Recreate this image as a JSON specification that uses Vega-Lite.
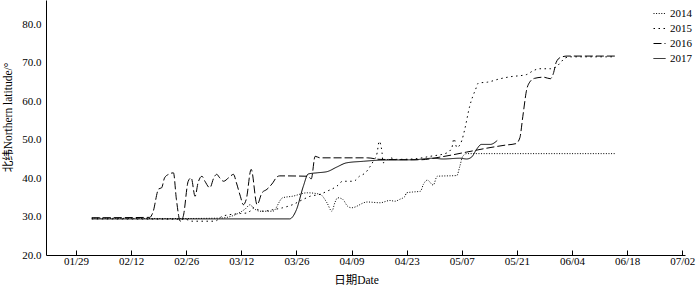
{
  "$schema": "https://vega.github.io/schema/vega-lite/v6.json",
  "width": 639,
  "height": 255,
  "autosize": {"type": "none"},
  "padding": {"left": 46, "top": 0, "right": 15, "bottom": 36},
  "background": "white",
  "config": {
    "view": {"stroke": null},
    "font": "'Liberation Serif', serif",
    "axis": {"grid": false, "domainColor": "black", "tickColor": "black", "labelColor": "black", "titleColor": "black", "labelFont": "'Liberation Serif', serif", "titleFont": "'Liberation Serif', 'Noto Sans CJK SC', serif", "labelFontSize": 11, "titleFontSize": 11.5, "titleFontWeight": "normal"},
    "legend": {"labelFont": "'Liberation Serif', serif", "labelFontSize": 11, "labelColor": "black"}
  },
  "data": {
    "values": [
      {"year": "2014", "date": "2001-02-02T00:00", "lat": 29.6},
      {"year": "2014", "date": "2001-02-24T12:00", "lat": 29.5},
      {"year": "2014", "date": "2001-03-06T12:00", "lat": 29.6},
      {"year": "2014", "date": "2001-03-10T12:00", "lat": 30.5},
      {"year": "2014", "date": "2001-03-13T00:00", "lat": 32.0},
      {"year": "2014", "date": "2001-03-14T06:00", "lat": 33.1},
      {"year": "2014", "date": "2001-03-15T00:00", "lat": 32.3},
      {"year": "2014", "date": "2001-03-16T18:00", "lat": 31.4},
      {"year": "2014", "date": "2001-03-20T00:00", "lat": 31.4},
      {"year": "2014", "date": "2001-03-22T12:00", "lat": 34.9},
      {"year": "2014", "date": "2001-03-25T00:00", "lat": 35.3},
      {"year": "2014", "date": "2001-03-28T18:00", "lat": 36.2},
      {"year": "2014", "date": "2001-04-01T00:00", "lat": 35.8},
      {"year": "2014", "date": "2001-04-02T18:00", "lat": 33.6},
      {"year": "2014", "date": "2001-04-04T00:00", "lat": 31.4},
      {"year": "2014", "date": "2001-04-04T18:00", "lat": 33.6},
      {"year": "2014", "date": "2001-04-05T12:00", "lat": 34.9},
      {"year": "2014", "date": "2001-04-06T18:00", "lat": 34.5},
      {"year": "2014", "date": "2001-04-08T00:00", "lat": 32.7},
      {"year": "2014", "date": "2001-04-09T00:00", "lat": 32.3},
      {"year": "2014", "date": "2001-04-13T00:00", "lat": 33.8},
      {"year": "2014", "date": "2001-04-16T06:00", "lat": 33.6},
      {"year": "2014", "date": "2001-04-18T18:00", "lat": 34.2},
      {"year": "2014", "date": "2001-04-20T00:00", "lat": 34.0},
      {"year": "2014", "date": "2001-04-21T06:00", "lat": 34.5},
      {"year": "2014", "date": "2001-04-22T12:00", "lat": 35.2},
      {"year": "2014", "date": "2001-04-23T00:00", "lat": 36.2},
      {"year": "2014", "date": "2001-04-24T12:00", "lat": 36.4},
      {"year": "2014", "date": "2001-04-26T12:00", "lat": 36.6},
      {"year": "2014", "date": "2001-04-27T06:00", "lat": 38.4},
      {"year": "2014", "date": "2001-04-28T06:00", "lat": 39.5},
      {"year": "2014", "date": "2001-04-29T18:00", "lat": 38.2},
      {"year": "2014", "date": "2001-04-30T18:00", "lat": 40.5},
      {"year": "2014", "date": "2001-05-05T18:00", "lat": 40.7},
      {"year": "2014", "date": "2001-05-06T12:00", "lat": 43.1},
      {"year": "2014", "date": "2001-05-07T06:00", "lat": 45.7},
      {"year": "2014", "date": "2001-05-08T06:00", "lat": 46.4},
      {"year": "2014", "date": "2001-06-15T00:00", "lat": 46.4},

      {"year": "2015", "date": "2001-02-02T00:00", "lat": 29.4},
      {"year": "2015", "date": "2001-02-25T18:00", "lat": 29.3},
      {"year": "2015", "date": "2001-02-27T12:00", "lat": 28.8},
      {"year": "2015", "date": "2001-03-05T06:00", "lat": 28.8},
      {"year": "2015", "date": "2001-03-07T00:00", "lat": 30.0},
      {"year": "2015", "date": "2001-03-09T00:00", "lat": 30.5},
      {"year": "2015", "date": "2001-03-11T18:00", "lat": 30.8},
      {"year": "2015", "date": "2001-03-13T18:00", "lat": 31.0},
      {"year": "2015", "date": "2001-03-15T00:00", "lat": 32.3},
      {"year": "2015", "date": "2001-03-16T06:00", "lat": 31.8},
      {"year": "2015", "date": "2001-03-17T12:00", "lat": 31.4},
      {"year": "2015", "date": "2001-03-20T00:00", "lat": 31.8},
      {"year": "2015", "date": "2001-03-22T12:00", "lat": 32.3},
      {"year": "2015", "date": "2001-03-25T00:00", "lat": 33.1},
      {"year": "2015", "date": "2001-03-27T18:00", "lat": 34.5},
      {"year": "2015", "date": "2001-03-29T12:00", "lat": 35.3},
      {"year": "2015", "date": "2001-04-01T00:00", "lat": 35.8},
      {"year": "2015", "date": "2001-04-02T18:00", "lat": 36.6},
      {"year": "2015", "date": "2001-04-05T06:00", "lat": 37.9},
      {"year": "2015", "date": "2001-04-06T18:00", "lat": 39.2},
      {"year": "2015", "date": "2001-04-09T12:00", "lat": 39.2},
      {"year": "2015", "date": "2001-04-11T00:00", "lat": 40.5},
      {"year": "2015", "date": "2001-04-12T12:00", "lat": 41.4},
      {"year": "2015", "date": "2001-04-13T18:00", "lat": 43.1},
      {"year": "2015", "date": "2001-04-14T12:00", "lat": 44.4},
      {"year": "2015", "date": "2001-04-15T12:00", "lat": 46.6},
      {"year": "2015", "date": "2001-04-16T00:00", "lat": 49.6},
      {"year": "2015", "date": "2001-04-16T18:00", "lat": 46.6},
      {"year": "2015", "date": "2001-04-17T00:00", "lat": 44.0},
      {"year": "2015", "date": "2001-04-18T18:00", "lat": 45.3},
      {"year": "2015", "date": "2001-04-20T12:00", "lat": 44.9},
      {"year": "2015", "date": "2001-04-24T12:00", "lat": 45.0},
      {"year": "2015", "date": "2001-04-29T00:00", "lat": 45.7},
      {"year": "2015", "date": "2001-05-03T06:00", "lat": 46.6},
      {"year": "2015", "date": "2001-05-04T12:00", "lat": 48.0},
      {"year": "2015", "date": "2001-05-05T00:00", "lat": 50.3},
      {"year": "2015", "date": "2001-05-05T18:00", "lat": 48.0},
      {"year": "2015", "date": "2001-05-07T00:00", "lat": 49.8},
      {"year": "2015", "date": "2001-05-07T18:00", "lat": 52.7},
      {"year": "2015", "date": "2001-05-09T00:00", "lat": 58.7},
      {"year": "2015", "date": "2001-05-10T12:00", "lat": 63.1},
      {"year": "2015", "date": "2001-05-11T06:00", "lat": 64.8},
      {"year": "2015", "date": "2001-05-13T12:00", "lat": 65.0},
      {"year": "2015", "date": "2001-05-16T18:00", "lat": 65.9},
      {"year": "2015", "date": "2001-05-19T06:00", "lat": 66.4},
      {"year": "2015", "date": "2001-05-23T12:00", "lat": 67.0},
      {"year": "2015", "date": "2001-05-25T00:00", "lat": 67.9},
      {"year": "2015", "date": "2001-05-26T18:00", "lat": 68.5},
      {"year": "2015", "date": "2001-05-29T12:00", "lat": 68.5},
      {"year": "2015", "date": "2001-05-31T00:00", "lat": 69.0},
      {"year": "2015", "date": "2001-06-01T00:00", "lat": 70.0},
      {"year": "2015", "date": "2001-06-02T06:00", "lat": 71.3},
      {"year": "2015", "date": "2001-06-03T12:00", "lat": 71.6},
      {"year": "2015", "date": "2001-06-15T00:00", "lat": 71.6},

      {"year": "2016", "date": "2001-02-02T00:00", "lat": 29.7},
      {"year": "2016", "date": "2001-02-16T18:00", "lat": 29.8},
      {"year": "2016", "date": "2001-02-17T12:00", "lat": 31.0},
      {"year": "2016", "date": "2001-02-19T00:00", "lat": 37.2},
      {"year": "2016", "date": "2001-02-19T18:00", "lat": 37.5},
      {"year": "2016", "date": "2001-02-20T12:00", "lat": 40.1},
      {"year": "2016", "date": "2001-02-21T12:00", "lat": 41.0},
      {"year": "2016", "date": "2001-02-22T18:00", "lat": 41.4},
      {"year": "2016", "date": "2001-02-23T12:00", "lat": 34.5},
      {"year": "2016", "date": "2001-02-24T12:00", "lat": 28.8},
      {"year": "2016", "date": "2001-02-25T06:00", "lat": 30.1},
      {"year": "2016", "date": "2001-02-26T12:00", "lat": 39.2},
      {"year": "2016", "date": "2001-02-27T06:00", "lat": 40.1},
      {"year": "2016", "date": "2001-02-28T06:00", "lat": 35.3},
      {"year": "2016", "date": "2001-03-01T00:00", "lat": 38.8},
      {"year": "2016", "date": "2001-03-02T00:00", "lat": 40.5},
      {"year": "2016", "date": "2001-03-02T18:00", "lat": 39.2},
      {"year": "2016", "date": "2001-03-04T00:00", "lat": 37.5},
      {"year": "2016", "date": "2001-03-05T00:00", "lat": 40.1},
      {"year": "2016", "date": "2001-03-05T18:00", "lat": 41.0},
      {"year": "2016", "date": "2001-03-06T12:00", "lat": 40.1},
      {"year": "2016", "date": "2001-03-07T12:00", "lat": 39.2},
      {"year": "2016", "date": "2001-03-08T18:00", "lat": 40.1},
      {"year": "2016", "date": "2001-03-10T00:00", "lat": 41.0},
      {"year": "2016", "date": "2001-03-10T18:00", "lat": 38.8},
      {"year": "2016", "date": "2001-03-11T18:00", "lat": 35.3},
      {"year": "2016", "date": "2001-03-12T12:00", "lat": 33.1},
      {"year": "2016", "date": "2001-03-13T06:00", "lat": 34.5},
      {"year": "2016", "date": "2001-03-14T12:00", "lat": 42.3},
      {"year": "2016", "date": "2001-03-16T00:00", "lat": 33.1},
      {"year": "2016", "date": "2001-03-17T06:00", "lat": 36.2},
      {"year": "2016", "date": "2001-03-18T12:00", "lat": 37.1},
      {"year": "2016", "date": "2001-03-20T00:00", "lat": 38.8},
      {"year": "2016", "date": "2001-03-21T00:00", "lat": 40.3},
      {"year": "2016", "date": "2001-03-21T18:00", "lat": 40.6},
      {"year": "2016", "date": "2001-03-29T00:00", "lat": 40.5},
      {"year": "2016", "date": "2001-03-29T18:00", "lat": 39.8},
      {"year": "2016", "date": "2001-03-30T18:00", "lat": 45.7},
      {"year": "2016", "date": "2001-04-01T00:00", "lat": 45.3},
      {"year": "2016", "date": "2001-04-13T00:00", "lat": 45.3},
      {"year": "2016", "date": "2001-04-16T06:00", "lat": 44.9},
      {"year": "2016", "date": "2001-04-26T12:00", "lat": 44.8},
      {"year": "2016", "date": "2001-05-01T12:00", "lat": 45.5},
      {"year": "2016", "date": "2001-05-08T06:00", "lat": 46.8},
      {"year": "2016", "date": "2001-05-13T06:00", "lat": 47.8},
      {"year": "2016", "date": "2001-05-18T00:00", "lat": 48.6},
      {"year": "2016", "date": "2001-05-20T18:00", "lat": 49.0},
      {"year": "2016", "date": "2001-05-21T18:00", "lat": 50.5},
      {"year": "2016", "date": "2001-05-22T12:00", "lat": 56.0},
      {"year": "2016", "date": "2001-05-23T12:00", "lat": 63.1},
      {"year": "2016", "date": "2001-05-24T06:00", "lat": 65.0},
      {"year": "2016", "date": "2001-05-25T12:00", "lat": 66.0},
      {"year": "2016", "date": "2001-05-27T18:00", "lat": 66.3},
      {"year": "2016", "date": "2001-05-29T12:00", "lat": 65.9},
      {"year": "2016", "date": "2001-05-30T06:00", "lat": 67.2},
      {"year": "2016", "date": "2001-05-31T00:00", "lat": 70.2},
      {"year": "2016", "date": "2001-06-01T00:00", "lat": 71.4},
      {"year": "2016", "date": "2001-06-02T18:00", "lat": 71.8},
      {"year": "2016", "date": "2001-06-15T00:00", "lat": 71.8},

      {"year": "2017", "date": "2001-02-02T00:00", "lat": 29.4},
      {"year": "2017", "date": "2001-03-24T06:00", "lat": 29.4},
      {"year": "2017", "date": "2001-03-26T00:00", "lat": 31.8},
      {"year": "2017", "date": "2001-03-27T18:00", "lat": 37.9},
      {"year": "2017", "date": "2001-03-29T00:00", "lat": 41.1},
      {"year": "2017", "date": "2001-03-31T06:00", "lat": 41.4},
      {"year": "2017", "date": "2001-04-02T18:00", "lat": 41.7},
      {"year": "2017", "date": "2001-04-05T06:00", "lat": 42.9},
      {"year": "2017", "date": "2001-04-07T18:00", "lat": 44.0},
      {"year": "2017", "date": "2001-04-12T00:00", "lat": 44.4},
      {"year": "2017", "date": "2001-04-16T06:00", "lat": 44.7},
      {"year": "2017", "date": "2001-04-24T18:00", "lat": 44.8},
      {"year": "2017", "date": "2001-04-29T18:00", "lat": 45.2},
      {"year": "2017", "date": "2001-05-02T06:00", "lat": 45.0},
      {"year": "2017", "date": "2001-05-06T12:00", "lat": 45.2},
      {"year": "2017", "date": "2001-05-08T06:00", "lat": 45.0},
      {"year": "2017", "date": "2001-05-09T12:00", "lat": 45.5},
      {"year": "2017", "date": "2001-05-10T18:00", "lat": 47.5},
      {"year": "2017", "date": "2001-05-12T00:00", "lat": 48.8},
      {"year": "2017", "date": "2001-05-14T06:00", "lat": 48.8},
      {"year": "2017", "date": "2001-05-16T00:00", "lat": 49.8}
    ]
  },
  "mark": {"type": "line", "interpolate": "monotone", "color": "black", "strokeWidth": 1, "clip": true},
  "encoding": {
    "x": {
      "field": "date",
      "type": "temporal",
      "title": "日期Date",
      "scale": {"domain": [{"year": 2001, "month": 1, "date": 21, "hours": 9}, {"year": 2001, "month": 7, "date": 2, "hours": 17}]},
      "axis": {
        "values": [
          {"year": 2001, "month": 1, "date": 29},
          {"year": 2001, "month": 2, "date": 12},
          {"year": 2001, "month": 2, "date": 26},
          {"year": 2001, "month": 3, "date": 12},
          {"year": 2001, "month": 3, "date": 26},
          {"year": 2001, "month": 4, "date": 9},
          {"year": 2001, "month": 4, "date": 23},
          {"year": 2001, "month": 5, "date": 7},
          {"year": 2001, "month": 5, "date": 21},
          {"year": 2001, "month": 6, "date": 4},
          {"year": 2001, "month": 6, "date": 18},
          {"year": 2001, "month": 7, "date": 2}
        ],
        "format": "%m/%d",
        "tickSize": -5,
        "labelPadding": 5,
        "labelFlush": false,
        "labelOverlap": false,
        "titlePadding": 8,
        "titleX": 310
      }
    },
    "y": {
      "field": "lat",
      "type": "quantitative",
      "title": "北纬Northern latitude/°",
      "scale": {"domain": [20, 86.4], "nice": false, "zero": false},
      "axis": {"values": [20, 30, 40, 50, 60, 70, 80], "format": ".1f", "ticks": false, "labelPadding": 5, "titlePadding": 8, "titleY": 117}
    },
    "strokeDash": {
      "field": "year",
      "type": "nominal",
      "scale": {"domain": ["2014", "2015", "2016", "2017"], "range": [[1, 1.6], [1.5, 3.5], [8, 3], [1, 0]]},
      "legend": {"title": null, "orient": "none", "legendX": 607, "legendY": 7, "symbolSize": 144, "symbolStrokeWidth": 1, "symbolStrokeColor": "black", "rowPadding": 3, "labelOffset": 4}
    }
  }
}
